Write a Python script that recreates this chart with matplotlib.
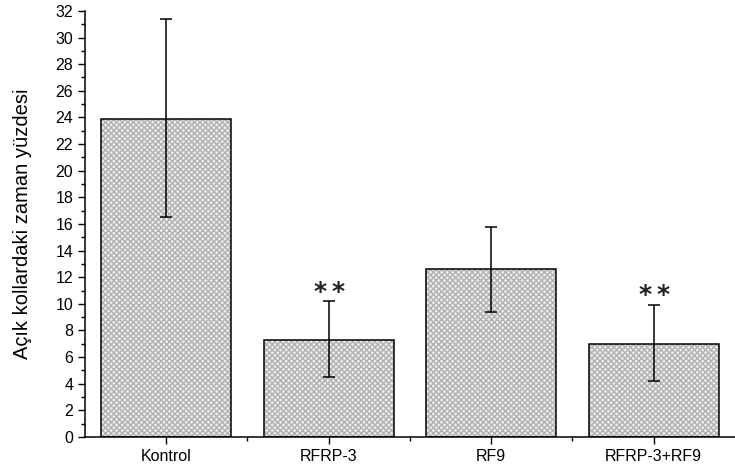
import matplotlib.pyplot as plt
from matplotlib.ticker import MultipleLocator, FixedLocator

plt.rcParams['font.family'] = ['Liberation Sans', 'DejaVu Sans']
plt.rcParams['hatch.linewidth'] = 1.0

groups = ['Kontrol', 'RFRP-3', 'RF9', 'RFRP-3+RF9']
means = [23.9, 7.3, 12.6, 7.0]
err_up = [7.5, 2.9, 3.2, 2.9]
err_down = [7.4, 2.8, 3.2, 2.8]
stars = ['', '**', '', '**']
star_y = [0, 10.9, 0, 10.7]

fig = plt.figure(figsize=(7.35, 4.74), dpi=100)
ax = fig.add_axes([0.1156, 0.078, 0.8844, 0.899])

x = list(range(len(groups)))
# hatch drawn in grey first, then the black outline on top
ax.bar(x, means, width=0.8, color='#ececec', edgecolor='#b2b2b2',
       linewidth=0, hatch='xxxxxx')
ax.bar(x, means, width=0.8, fill=False, edgecolor='black', linewidth=1.1)
ax.errorbar(x, means, yerr=[err_down, err_up], fmt='none', ecolor='black',
            elinewidth=1.1, capsize=4, capthick=1.1)
for i, s in enumerate(stars):
    if s:
        # two stars with a small gap between them
        for dx in (-0.055, 0.055):
            ax.text(x[i] + dx, star_y[i], '*', ha='center', va='center',
                    fontsize=18, fontweight='bold', color='#222222',
                    family='DejaVu Sans')

ax.set_xlim(-0.5, 3.5)
ax.set_ylim(0, 32)
ax.yaxis.set_major_locator(MultipleLocator(2))
ax.yaxis.set_minor_locator(MultipleLocator(1))
ax.set_xticks(x)
ax.set_xticklabels(groups)
ax.xaxis.set_minor_locator(FixedLocator([0.5, 1.5, 2.5]))
ax.tick_params(axis='both', which='major', direction='out', length=5,
               width=1, labelsize=11.5)
ax.tick_params(axis='both', which='minor', direction='out', length=3, width=1)
ax.set_ylabel('Açık kollardaki zaman yüzdesi', fontsize=14.5, labelpad=17)
for side in ['top', 'right']:
    ax.spines[side].set_visible(False)
for side in ['left', 'bottom']:
    ax.spines[side].set_linewidth(1.1)

fig.savefig('out.png', dpi=100)
